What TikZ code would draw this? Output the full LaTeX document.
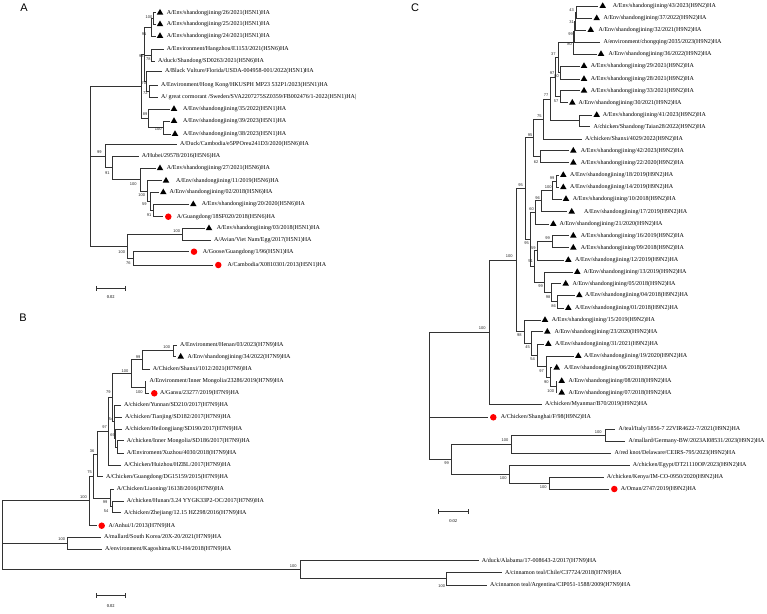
\documentclass[tikz,border=0pt]{standalone}
\usepackage{fontspec}
\setmainfont{Liberation Serif}
\newfontfamily\bsfont{Liberation Sans}
\usetikzlibrary{shapes.geometric}
\tikzset{
  br/.style={draw=black!80, line width=0.9pt},
  lab/.style={anchor=west, inner sep=0pt, font=\fontsize{6}{7}\selectfont},
  bsn/.style={inner sep=0pt, font=\bsfont\fontsize{4}{5}\selectfont, text=black!85},
  trim/.style={regular polygon, regular polygon sides=3, fill=black, inner sep=0pt, minimum size=7.5pt},
  rdot/.style={circle, fill=red, inner sep=0pt, minimum size=6.5pt},
  panel/.style={inner sep=0pt, font=\bsfont\fontsize{11}{13}\selectfont},
  sclab/.style={inner sep=0pt, font=\fontsize{4.5}{5}\selectfont}
}
\newcommand{\lfT}[5]{\coordinate (#1) at ({#3-4.5},#2); \node[trim] (#1m) at (#3,#2) {}; \node[lab] (#1t) at (#4,#2) {#5};}
\newcommand{\lfP}[4]{\coordinate (#1) at ({#3-3},#2); \node[lab] (#1t) at (#3,#2) {#4};}
\newcommand{\lfR}[5]{\coordinate (#1) at ({#3-5},#2); \node[rdot] (#1m) at (#3,#2) {}; \node[lab] (#1t) at (#4,#2) {#5};}
\newcommand{\jn}[2]{\foreach \x in {#2}{\draw[br] (#1) |- (\x);}}
\newcommand{\bsv}[4]{\node[bsn] (#1) at (#2,#3) {#4};}
\begin{document}
\begin{tikzpicture}[x=1pt,y=-1pt]
\useasboundingbox (0,0) rectangle (767,613);
% ---------------- Panel A ----------------
\node[panel] (pA) at (24,8) {A};
\lfT{AL1}{12.7}{160}{166.7}{A/Env/shandongjining/26/2021(H5N1)HA}
\lfT{AL2}{24.3}{160}{166.7}{A/Env/shandongjining/25/2021(H5N1)HA}
\lfT{AL3}{36}{160}{166.7}{A/Env/shandongjining/24/2021(H5N1)HA}
\lfP{AL4}{49.3}{166.7}{A/Environment/Hangzhou/E1153/2021(H5N6)HA}
\lfP{AL5}{61}{158}{A/duck/Shandong/SD0263/2021(H5N6)HA}
\lfP{AL6}{71}{165}{A/Black Vulture/Florida/USDA-004958-001/2022(H5N1)HA}
\lfP{AL7}{85}{161}{A/Environment/Hong Kong/HKUSPH MP23 532P1/2023(H5N1)HA}
\lfP{AL8}{97.3}{161}{A/ great cormorant /Sweden/SVA2207275SZ0359/FB002476/1-2022(H5N1)HA|}
\lfT{AL9}{109}{174}{183}{A/Env/shandongjining/35/2022(H5N1)HA}
\lfT{AL10}{121}{174}{183}{A/Env/shandongjining/39/2023(H5N1)HA}
\lfT{AL11}{134}{175}{183}{A/Env/shandongjining/38/2023(H5N1)HA}
\lfP{AL12}{144.3}{180}{A/Duck/Cambodia/e5PPOreu241D3/2020(H5N6)HA}
\lfP{AL13}{156}{141.7}{A/Hubei/29578/2016(H5N6)HA}
\lfT{AL14}{168.3}{160}{166.7}{A/Env/shandongjining/27/2021(H5N6)HA}
\lfT{AL15}{180.7}{166}{176}{A/Env/shandongjining/11/2019(H5N6)HA}
\lfT{AL16}{192.3}{163.3}{169.3}{A/Env/shandongjining/02/2018(H5N6)HA}
\lfT{AL17}{204.3}{193.3}{201.7}{A/Env/shandongjining/20/2020(H5N6)HA}
\lfR{AL18}{216.7}{168.3}{176.7}{A/Guangdong/18SF020/2018(H5N6)HA}
\lfT{AL19}{228.3}{209}{216.7}{A/Env/shandongjining/03/2018(H5N1)HA}
\lfP{AL20}{240}{214}{A/Avian/Viet Nam/Egg/2017(H5N1)HA}
\lfR{AL21}{251.7}{194}{202.7}{A/Goose/Guangdong/1/96(H5N1)HA}
\lfR{AL22}{265}{218.3}{227.3}{A/Cambodia/X0810301/2013(H5N1)HA}
\coordinate (a100a) at (153.5,18.5);
\coordinate (a91) at (151.5,27.4);
\coordinate (a78) at (151,55.15);
\coordinate (a72) at (149,91.15);
\coordinate (a70) at (146.5,81.1);
\coordinate (a93) at (144.5,54.25);
\coordinate (a100b) at (163,127.5);
\coordinate (a89) at (148,118.25);
\coordinate (aTop) at (141.7,86.25);
\coordinate (a91c) at (153.5,210.5);
\coordinate (a59) at (150,201.4);
\coordinate (a100d) at (147.5,191.05);
\coordinate (a100c) at (140,179.7);
\coordinate (a91b) at (112.7,167.85);
\coordinate (a99) at (105,156.1);
\coordinate (a100e) at (182.7,234.15);
\coordinate (a76) at (133.3,258.35);
\coordinate (a100f) at (127,246.25);
\coordinate (aRoot) at (90,166.25);
\jn{a100a}{AL1,AL2}
\jn{a91}{a100a,AL3}
\jn{a78}{AL4,AL5}
\jn{a72}{AL7,AL8}
\jn{a70}{AL6,a72}
\jn{a93}{a91,a78,a70}
\jn{a100b}{AL10,AL11}
\jn{a89}{AL9,a100b}
\jn{aTop}{a93,a89}
\jn{a91c}{AL17,AL18}
\jn{a59}{AL16,a91c}
\jn{a100d}{AL15,a59}
\jn{a100c}{AL14,a100d}
\jn{a91b}{AL13,a100c}
\jn{a99}{AL12,a91b}
\jn{a100e}{AL19,AL20}
\jn{a76}{AL21,AL22}
\jn{a100f}{a100e,a76}
\jn{aRoot}{aTop,a99,a100f}
\bsv{ba1}{149}{17.3}{100}
\bsv{ba2}{144}{34.3}{91}
\bsv{ba3}{141.3}{56}{93}
\bsv{ba4}{148.3}{59.3}{78}
\bsv{ba5}{143.8}{83.3}{70}
\bsv{ba6}{145.3}{93.3}{72}
\bsv{ba7}{145}{114}{89}
\bsv{ba8}{158.3}{129.3}{100}
\bsv{ba9}{99.3}{151.7}{99}
\bsv{ba10}{107.3}{172.7}{91}
\bsv{ba11}{133.3}{184.3}{100}
\bsv{ba12}{141.7}{195}{100}
\bsv{ba13}{144.3}{204}{59}
\bsv{ba14}{149}{215}{91}
\bsv{ba15}{176.7}{231}{100}
\bsv{ba16}{121.7}{251.7}{100}
\bsv{ba17}{128.3}{263.3}{76}
\coordinate (sA1) at (96.7,288.3);
\coordinate (sA2) at (125,288.3);
\draw[br] (sA1) -- (sA2);
\draw[br] (sA1) ++(0,-2.5) -- ++(0,5);
\draw[br] (sA2) ++(0,-2.5) -- ++(0,5);
\node[sclab] (sAt) at (110.8,297.5) {0.02};
% ---------------- Panel B ----------------
\node[panel] (pB) at (23,318) {B};
\lfP{BL1}{345}{180}{A/Environment/Henan/03/2023(H7N9)HA}
\lfT{BL2}{356.7}{180.7}{187.3}{A/Env/shandongjining/34/2022(H7N9)HA}
\lfP{BL3}{369}{152.7}{A/Chicken/Shanxi/1012/2021(H7N9)HA}
\lfP{BL4}{381}{149.3}{A/Environment/Inner Mongolia/23286/2019(H7N9)HA}
\lfR{BL5}{393.3}{154.3}{160}{A/Gansu/23277/2019(H7N9)HA}
\lfP{BL6}{405}{124}{A/chicken/Yunnan/SD210/2017(H7N9)HA}
\lfP{BL7}{417.3}{125}{A/chicken/Tianjing/SD182/2017(H7N9)HA}
\lfP{BL8}{429.3}{125}{A/chicken/Heilongjiang/SD190/2017(H7N9)HA}
\lfP{BL9}{440.7}{126.7}{A/chicken/Inner Mongolia/SD186/2017(H7N9)HA}
\lfP{BL10}{453.3}{126.7}{A/Enviroment/Xuzhou/4030/2018(H7N9)HA}
\lfP{BL11}{465}{124}{A/Chicken/Huizhou/HZBL/2017(H7N9)HA}
\lfP{BL12}{476.7}{106}{A/Chicken/Guangdong/DG15159/2015(H7N9)HA}
\lfP{BL13}{489.3}{116.7}{A/Chicken/Liaoning/16138/2016(H7N9)HA}
\lfP{BL14}{501}{126.7}{A/chicken/Hunan/3.24 YYGK33P2-OC/2017(H7N9)HA}
\lfP{BL15}{512.7}{124}{A/chicken/Zhejiang/12.15 HZ298/2016(H7N9)HA}
\lfR{BL16}{525.7}{101.7}{108.3}{A/Anhui/1/2013(H7N9)HA}
\lfP{BL17}{537.3}{104}{A/mallard/South Korea/20X-20/2021(H7N9)HA}
\lfP{BL18}{549}{105}{A/environment/Kagoshima/KU-H4/2018(H7N9)HA}
\lfP{BL19}{560.7}{481.7}{A/duck/Alabama/17-008643-2/2017(H7N9)HA}
\lfP{BL20}{572.7}{505}{A/cinnamon teal/Chile/C37724/2018(H7N9)HA}
\lfP{BL21}{585}{490}{A/cinnamon teal/Argentina/CIP051-1588/2009(H7N9)HA}
\coordinate (b100a) at (173.3,350.85);
\coordinate (b99a) at (142.7,359.93);
\coordinate (b100b) at (145,387.15);
\coordinate (b100c) at (131.7,373.54);
\coordinate (bXZ) at (117.5,447);
\coordinate (b69) at (115.8,438.15);
\coordinate (b54) at (114.5,421.6);
\coordinate (b79) at (112,397.57);
\coordinate (b97) at (108.3,431.3);
\coordinate (b36) at (97,454);
\coordinate (b54b) at (112,506.85);
\coordinate (b99) at (110,498.08);
\coordinate (b75) at (93.5,476.04);
\coordinate (b100) at (89.3,500.87);
\coordinate (bM) at (67.7,543.15);
\coordinate (bO2) at (446.7,578.85);
\coordinate (bO) at (300.7,569.8);
\coordinate (bRoot) at (2,535);
\jn{b100a}{BL1,BL2}
\jn{b99a}{b100a,BL3}
\jn{b100b}{BL4,BL5}
\jn{b100c}{b99a,b100b}
\jn{bXZ}{BL9,BL10}
\jn{b69}{BL8,bXZ}
\jn{b54}{BL6,BL7,b69}
\jn{b79}{b100c,b54}
\jn{b97}{b79,BL11}
\jn{b36}{b97,BL12}
\jn{b54b}{BL14,BL15}
\jn{b99}{BL13,b54b}
\jn{b75}{b36,b99}
\jn{b100}{b75,BL16}
\jn{bM}{BL17,BL18}
\jn{bO2}{BL20,BL21}
\jn{bO}{BL19,bO2}
\jn{bRoot}{b100,bM,bO}
\bsv{bb1}{166.7}{347.3}{100}
\bsv{bb2}{138}{356.7}{99}
\bsv{bb3}{139.3}{391.7}{100}
\bsv{bb4}{125}{371}{100}
\bsv{bb5}{108.3}{392}{79}
\bsv{bb6}{104.5}{427.3}{97}
\bsv{bb7}{111}{419}{54}
\bsv{bb8}{112.5}{435.5}{69}
\bsv{bb9}{92}{451}{36}
\bsv{bb10}{89.5}{472.5}{75}
\bsv{bb11}{83.5}{497}{100}
\bsv{bb12}{105}{501.7}{99}
\bsv{bb13}{106}{510.7}{54}
\bsv{bb14}{61.7}{539.3}{100}
\bsv{bb15}{293.3}{566}{100}
\bsv{bb16}{441.7}{586}{100}
\coordinate (sB1) at (96.7,595.7);
\coordinate (sB2) at (125,595.7);
\draw[br] (sB1) -- (sB2);
\draw[br] (sB1) ++(0,-2.5) -- ++(0,5);
\draw[br] (sB2) ++(0,-2.5) -- ++(0,5);
\node[sclab] (sBt) at (110.8,606) {0.02};
% ---------------- Panel C ----------------
\node[panel] (pC) at (415,8) {C};
\lfT{CL1}{6}{602.7}{612.7}{A/Env/shandongjining/43/2023(H9N2)HA}
\lfT{CL2}{18.3}{596.7}{603.3}{A/Env/shandongjining/37/2022(H9N2)HA}
\lfT{CL3}{30}{590.7}{598.3}{A/Env/shandongjining/32/2021(H9N2)HA}
\lfP{CL4}{42.3}{603.3}{A/environment/chongqing/2035/2023(H9N2)HA}
\lfT{CL5}{54}{601}{608.3}{A/Env/shandongjining/36/2022(H9N2)HA}
\lfT{CL6}{66}{584}{590.7}{A/Env/shandongjining/29/2021(H9N2)HA}
\lfT{CL7}{79}{584}{590.7}{A/Env/shandongjining/28/2021(H9N2)HA}
\lfT{CL8}{90.7}{584}{590.7}{A/Env/shandongjining/33/2021(H9N2)HA}
\lfT{CL9}{102.7}{572.3}{578.3}{A/Env/shandongjining/30/2021(H9N2)HA}
\lfT{CL10}{115}{596.7}{602.7}{A/Env/shandongjining/41/2023(H9N2)HA}
\lfP{CL11}{126.7}{593.3}{A/chicken/Shandong/Taian28/2022(H9N2)HA}
\lfP{CL12}{139}{585}{A/chicken/Shanxi/4029/2022(H9N2)HA}
\lfT{CL13}{150.7}{573.3}{580.7}{A/Env/shandongjining/42/2023(H9N2)HA}
\lfT{CL14}{162.7}{573.3}{580.7}{A/Env/shandongjining/22/2020(H9N2)HA}
\lfT{CL15}{175}{563.3}{570}{A/Env/shandongjining/18/2019(H9N2)HA}
\lfT{CL16}{187.3}{563.3}{570}{A/Env/shandongjining/14/2019(H9N2)HA}
\lfT{CL17}{199}{566}{572.7}{A/Env/shandongjining/10/2018(H9N2)HA}
\lfT{CL18}{211.7}{571.7}{584}{A/Env/shandongjining/17/2019(H9N2)HA}
\lfT{CL19}{224}{553.3}{559.3}{A/Env/shandongjining/21/2020(H9N2)HA}
\lfT{CL20}{235.7}{573.3}{580.7}{A/Env/shandongjining/16/2019(H9N2)HA}
\lfT{CL21}{247.7}{573.3}{580.7}{A/Env/shandongjining/09/2018(H9N2)HA}
\lfT{CL22}{260}{568.3}{575}{A/Env/shandongjining/12/2019(H9N2)HA}
\lfT{CL23}{272}{577.3}{583.3}{A/Env/shandongjining/13/2019(H9N2)HA}
\lfT{CL24}{283.7}{565.7}{572.3}{A/Env/shandongjining/05/2018(H9N2)HA}
\lfT{CL25}{295.3}{579.3}{585}{A/Env/shandongjining/04/2018(H9N2)HA}
\lfT{CL26}{308}{568.3}{575}{A/Env/shandongjining/01/2018(H9N2)HA}
\lfT{CL27}{320}{545}{551.7}{A/Env/shandongjining/15/2019(H9N2)HA}
\lfT{CL28}{331.7}{547.3}{554.3}{A/Env/shandongjining/23/2020(H9N2)HA}
\lfT{CL29}{344}{548.3}{555}{A/Env/shandongjining/31/2021(H9N2)HA}
\lfT{CL30}{356}{578.3}{584}{A/Env/shandongjining/19/2020(H9N2)HA}
\lfT{CL31}{367.7}{556.7}{564}{A/Env/shandongjining/06/2018(H9N2)HA}
\lfT{CL32}{381}{561.7}{568.3}{A/Env/shandongjining/08/2018(H9N2)HA}
\lfT{CL33}{392.7}{561.7}{568.3}{A/Env/shandongjining/07/2018(H9N2)HA}
\lfP{CL34}{404.3}{545}{A/chicken/Myanmar/B70/2019(H9N2)HA}
\lfR{CL35}{417.3}{493.3}{500.7}{A/Chicken/Shanghai/F/98(H9N2)HA}
\lfP{CL36}{429}{618.3}{A/teal/Italy/1856-7 22VIR4622-7/2021(H9N2)HA}
\lfP{CL37}{441}{628.3}{A/mallard/Germany-BW/2023AI08531/2023(H9N2)HA}
\lfP{CL38}{453.3}{614.3}{A/red knot/Delaware/CEIRS-795/2023(H9N2)HA}
\lfP{CL39}{465}{632.7}{A/chicken/Egypt/DT21110OP/2023(H9N2)HA}
\lfP{CL40}{477.3}{606.7}{A/chicken/Kenya/IM-CO-0950/2020(H9N2)HA}
\lfR{CL41}{489}{614.3}{620.7}{A/Oman/2747/2019(H9N2)HA}
\coordinate (c43) at (576.7,12.15);
\coordinate (c31) at (575.5,21.08);
\coordinate (c99) at (574.5,31.69);
\coordinate (c80) at (573.5,42.85);
\coordinate (c80b) at (560,72.5);
\coordinate (c37) at (558.3,57.68);
\coordinate (c57) at (560,96.7);
\coordinate (c97) at (555.5,77.19);
\coordinate (cT) at (579.3,120.85);
\coordinate (c77) at (550,99.02);
\coordinate (c75) at (543.3,119.01);
\coordinate (c62) at (540,156.7);
\coordinate (c95a) at (533.3,137.86);
\coordinate (c99b) at (556,181.15);
\coordinate (c100a) at (552.7,190.08);
\coordinate (c96) at (541.7,200.89);
\coordinate (c60) at (535,212.45);
\coordinate (c99c) at (552,241.7);
\coordinate (c59) at (537,250.85);
\coordinate (c86) at (557,301.65);
\coordinate (c98) at (551.7,292.68);
\coordinate (c99e) at (544.3,282.34);
\coordinate (c51) at (534.7,266.6);
\coordinate (c95c) at (530,239.52);
\coordinate (c95b) at (525,188.69);
\coordinate (c100c) at (556,386.85);
\coordinate (c90) at (550.5,377.28);
\coordinate (c97b) at (546,366.64);
\coordinate (c54) at (537,355.32);
\coordinate (c45) at (531.7,343.51);
\coordinate (c98b) at (524.3,331.76);
\coordinate (c100b) at (516,260.22);
\coordinate (c100t) at (489.3,332.26);
\coordinate (cOt) at (605,435);
\coordinate (cOu) at (511,444.15);
\coordinate (cOv) at (549.3,483.15);
\coordinate (cOw) at (509.3,474.08);
\coordinate (cO99) at (451.7,459.1);
\coordinate (cRoot) at (429,395.7);
\jn{c43}{CL1,CL2}
\jn{c31}{c43,CL3}
\jn{c99}{c31,CL4}
\jn{c80}{c99,CL5}
\jn{c80b}{CL6,CL7}
\jn{c37}{c80,c80b}
\jn{c57}{CL8,CL9}
\jn{c97}{c37,c57}
\jn{cT}{CL10,CL11}
\jn{c77}{c97,cT}
\jn{c75}{c77,CL12}
\jn{c62}{CL13,CL14}
\jn{c95a}{c75,c62}
\jn{c99b}{CL15,CL16}
\jn{c100a}{c99b,CL17}
\jn{c96}{c100a,CL18}
\jn{c60}{c96,CL19}
\jn{c99c}{CL20,CL21}
\jn{c59}{c99c,CL22}
\jn{c86}{CL25,CL26}
\jn{c98}{CL24,c86}
\jn{c99e}{CL23,c98}
\jn{c51}{c59,c99e}
\jn{c95c}{c60,c51}
\jn{c95b}{c95a,c95c}
\jn{c100c}{CL32,CL33}
\jn{c90}{CL31,c100c}
\jn{c97b}{CL30,c90}
\jn{c54}{CL29,c97b}
\jn{c45}{CL28,c54}
\jn{c98b}{CL27,c45}
\jn{c100b}{c95b,c98b}
\jn{c100t}{c100b,CL34}
\jn{cOt}{CL36,CL37}
\jn{cOu}{cOt,CL38}
\jn{cOv}{CL40,CL41}
\jn{cOw}{CL39,cOv}
\jn{cO99}{cOu,cOw}
\jn{cRoot}{c100t,CL35,cO99}
\bsv{bc1}{571.7}{10}{43}
\bsv{bc2}{571.7}{21.7}{31}
\bsv{bc3}{570.5}{34.5}{99}
\bsv{bc4}{569.7}{44.5}{80}
\bsv{bc5}{553.3}{54}{37}
\bsv{bc6}{552}{73.3}{97}
\bsv{bc7}{556.5}{76.5}{80}
\bsv{bc8}{546}{95}{77}
\bsv{bc9}{556}{101}{57}
\bsv{bc10}{539.3}{116}{75}
\bsv{bc11}{530}{135}{95}
\bsv{bc12}{536}{161.7}{62}
\bsv{bc13}{520.5}{185}{95}
\bsv{bc14}{552}{178.3}{99}
\bsv{bc15}{548.3}{187.3}{100}
\bsv{bc16}{537.7}{197.7}{96}
\bsv{bc17}{531.5}{209}{60}
\bsv{bc18}{526.7}{243.3}{95}
\bsv{bc19}{547.7}{238.3}{99}
\bsv{bc20}{533.3}{248.3}{59}
\bsv{bc21}{530.7}{261}{51}
\bsv{bc22}{540.7}{286}{99}
\bsv{bc23}{548}{296.7}{98}
\bsv{bc24}{553.7}{305.7}{86}
\bsv{bc25}{509.3}{256}{100}
\bsv{bc26}{482.3}{328.3}{100}
\bsv{bc27}{519.3}{335}{98}
\bsv{bc28}{527.5}{346.7}{45}
\bsv{bc29}{532.5}{359.3}{54}
\bsv{bc30}{541.5}{371}{97}
\bsv{bc31}{546.3}{381.7}{90}
\bsv{bc32}{550.7}{390.7}{100}
\bsv{bc33}{598.3}{431.7}{100}
\bsv{bc34}{505}{440}{100}
\bsv{bc35}{446.7}{463.3}{99}
\bsv{bc36}{503.3}{478.3}{100}
\bsv{bc37}{543.3}{486.7}{100}
\coordinate (sC1) at (438.3,511.7);
\coordinate (sC2) at (468.3,511.7);
\draw[br] (sC1) -- (sC2);
\draw[br] (sC1) ++(0,-2.5) -- ++(0,5);
\draw[br] (sC2) ++(0,-2.5) -- ++(0,5);
\node[sclab] (sCt) at (453.3,521.5) {0.02};
\end{tikzpicture}
\end{document}
